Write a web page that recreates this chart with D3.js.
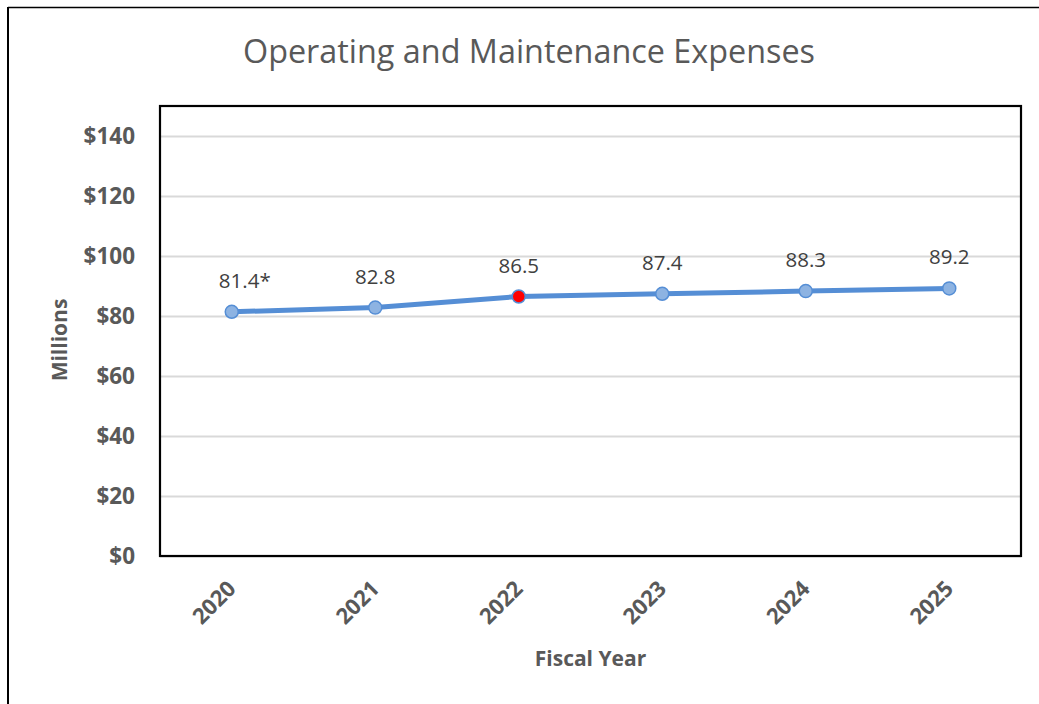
<!DOCTYPE html>
<html>
<head>
<meta charset="utf-8">
<script src="https://cdn.jsdelivr.net/npm/d3@7"></script>
<style>
  html, body { margin: 0; padding: 0; background: #fff; }
  svg { display: block; }
</style>
</head>
<body>
<script>
const years = ["2020", "2021", "2022", "2023", "2024", "2025"];
const values = [81.4, 82.8, 86.5, 87.4, 88.3, 89.2];
const labels = ["81.4*", "82.8", "86.5", "87.4", "88.3", "89.2"];
const highlighted = ["2022"];
const yTicks = [0, 20, 40, 60, 80, 100, 120, 140];
const title = "Operating and Maintenance Expenses";
const yTitle = "Millions";
const xTitle = "Fiscal Year";

const W = 1039, H = 704;
const plot = { left: 160, top: 106, right: 1021, bottom: 556 };
const bold = "'Open Sans', sans-serif";
const bsize = 21;

const svg = d3.select("body").append("svg").attr("width", W).attr("height", H);

// outer frame (top and left edges visible)
svg.append("line").attr("x1", 8).attr("x2", W).attr("y1", 7.5).attr("y2", 7.5)
  .attr("stroke", "#000").attr("stroke-width", 1.5);
svg.append("line").attr("x1", 8).attr("x2", 8).attr("y1", 7).attr("y2", H)
  .attr("stroke", "#000").attr("stroke-width", 2);

const x = d3.scalePoint().domain(years).range([plot.left, plot.right]).padding(0.5);
const y = d3.scaleLinear().domain([0, 150]).range([plot.bottom, plot.top]);

// title
svg.append("text").attr("x", 529).attr("y", 63).attr("text-anchor", "middle")
  .attr("font-family", "'Open Sans', sans-serif").attr("font-size", 32).attr("fill", "#595959")
  .attr("textLength", 572).attr("lengthAdjust", "spacingAndGlyphs")
  .text(title);

// gridlines + y tick labels
const yAxis = d3.axisLeft(y).tickValues(yTicks).tickSize(-(plot.right - plot.left)).tickFormat(d => "$" + d).tickPadding(25);
const gy = svg.append("g").attr("transform", `translate(${plot.left},0)`).call(yAxis);
gy.select(".domain").remove();
gy.selectAll(".tick line").attr("stroke", "#d9d9d9").attr("stroke-width", 2);
gy.selectAll(".tick text").attr("font-family", bold).attr("font-weight", "bold")
  .attr("font-size", 22.5).attr("fill", "#595959").attr("dy", "0.35em");

// plot frame
svg.append("rect").attr("x", plot.left).attr("y", plot.top)
  .attr("width", plot.right - plot.left).attr("height", plot.bottom - plot.top)
  .attr("fill", "none").attr("stroke", "#000").attr("stroke-width", 2.2);

// x axis labels
const xAxis = d3.axisBottom(x).tickSize(0).tickFormat(d => d);
const gx = svg.append("g").attr("transform", `translate(0,${plot.bottom})`).call(xAxis);
gx.select(".domain").remove();
gx.selectAll(".tick text")
  .attr("font-family", bold).attr("font-weight", "bold").attr("font-size", 22).attr("fill", "#595959")
  .attr("text-anchor", "end").attr("y", 0).attr("dy", 0)
  .attr("transform", "translate(5,34) rotate(-45)");

// axis titles
svg.append("text").attr("transform", `translate(67,${(plot.top + plot.bottom) / 2 + 9}) rotate(-90)`)
  .attr("text-anchor", "middle").attr("font-family", bold).attr("font-weight", "bold")
  .attr("font-size", bsize).attr("fill", "#595959").text(yTitle);
svg.append("text").attr("x", (plot.left + plot.right) / 2).attr("y", 666)
  .attr("text-anchor", "middle").attr("font-family", bold).attr("font-weight", "bold")
  .attr("font-size", bsize).attr("fill", "#595959").text(xTitle);

const data = years.map((yr, i) => ({ year: yr, value: values[i], label: labels[i] }));

// line
svg.append("path").datum(data)
  .attr("d", d3.line().x(d => x(d.year)).y(d => y(d.value)))
  .attr("fill", "none").attr("stroke", "#558ED5").attr("stroke-width", 5)
  .attr("stroke-linejoin", "round");

// markers
svg.selectAll("circle.pt").data(data).join("circle").attr("class", "pt")
  .attr("cx", d => x(d.year)).attr("cy", d => y(d.value)).attr("r", 6.5)
  .attr("fill", d => highlighted.includes(d.year) ? "#FF0000" : "#8DB3E2")
  .attr("stroke", "#558ED5").attr("stroke-width", 1.5);

// data labels
svg.selectAll("text.lbl").data(data).join("text").attr("class", "lbl")
  .attr("x", d => x(d.year) + (d.label.endsWith("*") ? 13 : 0))
  .attr("y", d => y(d.value) - 24)
  .attr("text-anchor", "middle")
  .attr("font-family", "'Open Sans', sans-serif").attr("font-size", 20.5).attr("fill", "#404040")
  .text(d => d.label);
</script>
</body>
</html>
